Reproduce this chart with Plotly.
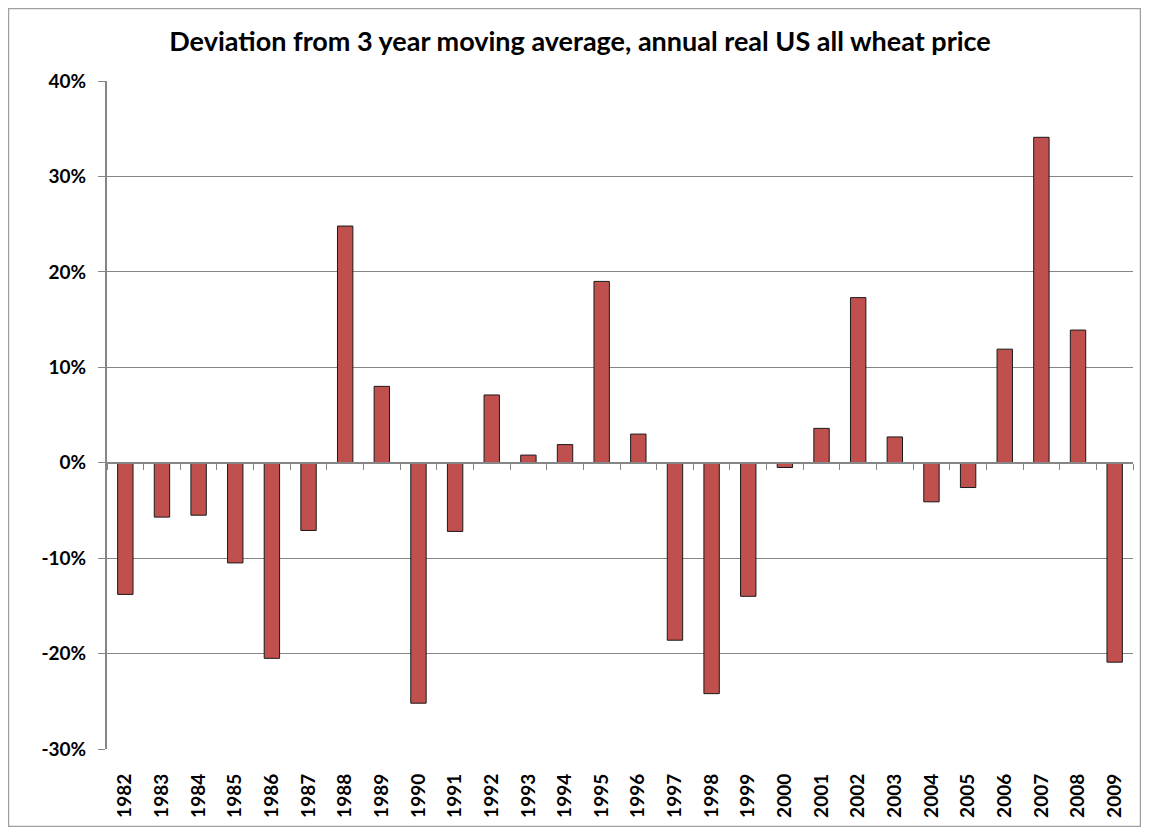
import plotly.graph_objects as go

years = [str(y) for y in range(1982, 2010)]
deviation = [-13.8, -5.7, -5.5, -10.5, -20.5, -7.1, 24.8, 8.0, -25.2, -7.2,
             7.1, 0.8, 1.9, 19.0, 3.0, -18.6, -24.2, -14.0, -0.5, 3.6,
             17.3, 2.7, -4.1, -2.6, 11.9, 34.1, 13.9, -20.9]
deviation = [v / 100 for v in deviation]
title_text = "Deviation from 3 year moving average, annual real US all wheat price"
tick_vals = [-0.3, -0.2, -0.1, 0, 0.1, 0.2, 0.3, 0.4]
tick_text = ["-30%", "-20%", "-10%", "0%", "10%", "20%", "30%", "40%"]

# page body has an 8px margin, so the figure is offset by 8px
OFF = 8
W, H = 1149 - 2 * OFF, 835 - 2 * OFF
L, R, T, B = 107 - OFF, 8, 81 - OFF, 78
pw, ph = W - L - R, H - T - B
zero_pos = (0 - (-0.3)) / 0.7

font = "Lato, Open Sans, sans-serif"

fig = go.Figure()
fig.add_trace(go.Bar(
    x=years, y=deviation,
    marker=dict(color="#C0504D", line=dict(color="#1a1a1a", width=1)),
    xaxis="x", yaxis="y", showlegend=False, hoverinfo="x+y",
))
fig.add_trace(go.Bar(
    x=years, y=[None] * len(years),
    xaxis="x2", yaxis="y", showlegend=False, hoverinfo="skip",
))

fig.update_layout(
    width=W, height=H,
    margin=dict(l=L, r=R, t=T, b=B),
    paper_bgcolor="white", plot_bgcolor="white",
    bargap=0.58,
    title=dict(text="<b>" + title_text + "</b>", x=(580 - OFF) / W, xanchor="center",
               y=1 - (42 - OFF) / H, yanchor="middle",
               font=dict(family=font, size=27, color="black")),
    xaxis=dict(
        type="category", anchor="free", position=zero_pos, side="bottom",
        showline=True, linecolor="#868686", linewidth=2,
        ticks="outside", tickson="boundaries", ticklen=6, tickcolor="#868686",
        showticklabels=False, showgrid=False, zeroline=False,
        range=[-0.5, len(years) - 0.5],
    ),
    xaxis2=dict(
        type="category", overlaying="x", anchor="y", side="bottom",
        showline=False, ticks="", showgrid=False, zeroline=False,
        tickangle=-90, ticklabelstandoff=20,
        tickfont=dict(family=font, size=19, color="black", weight="bold"),
        range=[-0.5, len(years) - 0.5],
    ),
    yaxis=dict(
        range=[-0.3, 0.4], tickvals=tick_vals, ticktext=tick_text,
        showgrid=True, gridcolor="#868686", gridwidth=1,
        showline=True, linecolor="#868686", linewidth=2,
        ticks="outside", ticklen=7, tickcolor="#868686",
        ticklabelstandoff=8,
        zeroline=False,
        tickfont=dict(family=font, size=19, color="black", weight="bold"),
    ),
)

fig.add_shape(type="rect", xref="paper", yref="paper",
              x0=(0.5 - L) / pw, x1=(W - 0.5 - L) / pw,
              y0=(H - B - (H - 0.5)) / ph, y1=(H - B - 0.5) / ph,
              line=dict(color="#A0A0A0", width=1.5), fillcolor="rgba(0,0,0,0)",
              layer="below")

fig.write_html("out.html")
